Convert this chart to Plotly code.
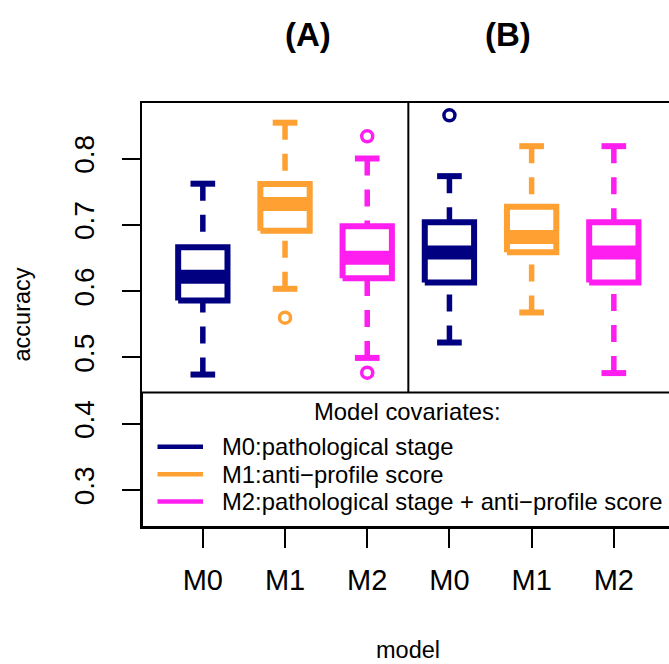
import plotly.graph_objects as go

# Boxplot summaries: accuracy of three covariate models in two settings (A, B)
models = ["M0", "M1", "M2", "M0", "M1", "M2"]
positions = [1, 2, 3, 4, 5, 6]
model_colors = ["#000080", "#FFA032", "#FF1EF0"]

whisker_low = [0.4742, 0.6035, 0.4993, 0.5225, 0.5678, 0.4764]
q1 = [0.5860, 0.6911, 0.6194, 0.6131, 0.6588, 0.6131]
median = [0.6215, 0.7313, 0.6502, 0.6583, 0.6816, 0.6583]
q3 = [0.6661, 0.7614, 0.6977, 0.7039, 0.7272, 0.7039]
whisker_high = [0.7620, 0.8540, 0.8000, 0.7734, 0.8186, 0.8186]
outliers = [[], [0.5600], [0.8335, 0.4771], [0.8652], [], []]

y_ticks = [0.3, 0.4, 0.5, 0.6, 0.7, 0.8]
panel_titles = ["(A)", "(B)"]
legend_title = "Model covariates:"
legend_labels = [
    "M0:pathological stage",
    "M1:anti\u2212profile score",
    "M2:pathological stage + anti\u2212profile score",
]

FONT = "Liberation Sans, Arial, Helvetica, sans-serif"
BOX_HALF = 0.3
STAPLE_HALF = 0.15
LW = 6

fig = go.Figure()

for i, p in enumerate(positions):
    col = model_colors[i % 3]
    # dashed whiskers, drawn from the whisker end towards the hinge
    fig.add_trace(go.Scatter(
        x=[p, p, None, p, p],
        y=[whisker_high[i], q3[i], None, whisker_low[i], q1[i]],
        mode="lines", line=dict(color=col, width=5.5, dash="17px,14px"),
        hoverinfo="skip", showlegend=False))
    # staples
    fig.add_trace(go.Scatter(
        x=[p - STAPLE_HALF, p + STAPLE_HALF, None, p - STAPLE_HALF, p + STAPLE_HALF],
        y=[whisker_high[i], whisker_high[i], None, whisker_low[i], whisker_low[i]],
        mode="lines", line=dict(color=col, width=LW),
        hoverinfo="skip", showlegend=False))
    # box
    fig.add_trace(go.Scatter(
        x=[p - BOX_HALF, p + BOX_HALF, p + BOX_HALF, p - BOX_HALF, p - BOX_HALF],
        y=[q1[i], q1[i], q3[i], q3[i], q1[i]],
        mode="lines", line=dict(color=col, width=LW),
        hoverinfo="skip", showlegend=False))
    # median
    fig.add_trace(go.Scatter(
        x=[p - BOX_HALF, p + BOX_HALF], y=[median[i], median[i]],
        mode="lines", line=dict(color=col, width=14),
        hoverinfo="skip", showlegend=False))
    # outliers
    if outliers[i]:
        fig.add_trace(go.Scatter(
            x=[p] * len(outliers[i]), y=outliers[i], mode="markers",
            marker=dict(symbol="circle-open", size=11, color=col,
                        line=dict(width=3.5, color=col)),
            hoverinfo="skip", showlegend=False))

# plot area: 142..669 px wide, 103..527 px tall
L, T, B = 142, 103, 137
W, H = 669, 664
pw, ph = W - L, H - T - B

def px_x(x):
    return (x - L) / pw

def px_y(y):
    return (H - B - y) / ph

shapes = []
legend_top = px_y(392.5)

# divider between the two panels
shapes.append(dict(type="line", xref="x", yref="paper", x0=3.5, x1=3.5,
                   y0=legend_top, y1=1, line=dict(color="black", width=2)))
# legend frame
shapes.append(dict(type="rect", xref="paper", yref="paper", x0=0, x1=1.05,
                   y0=0, y1=legend_top, line=dict(color="black", width=2),
                   fillcolor="white", layer="above"))

annotations = []
annotations.append(dict(text=legend_title, xref="paper", yref="paper",
                        x=px_x(407.5), y=px_y(411), showarrow=False,
                        xanchor="center", yanchor="middle",
                        font=dict(family=FONT, size=23.8, color="black")))
legend_y = [446.8, 474.3, 501.5]
for k, lab in enumerate(legend_labels):
    shapes.append(dict(type="line", xref="paper", yref="paper",
                       x0=px_x(157.5), x1=px_x(203), y0=px_y(legend_y[k]),
                       y1=px_y(legend_y[k]), layer="above",
                       line=dict(color=model_colors[k], width=4.5)))
    annotations.append(dict(text=lab, xref="paper", yref="paper",
                            x=px_x(220), y=px_y(legend_y[k]), showarrow=False,
                            xanchor="left", yanchor="middle",
                            font=dict(family=FONT, size=23.8, color="black")))

# panel titles
for t, xc in zip(panel_titles, [308.3, 508.3]):
    annotations.append(dict(text="<b>" + t + "</b>", xref="paper", yref="paper",
                            x=px_x(xc), y=px_y(35), showarrow=False,
                            xanchor="center", yanchor="middle",
                            font=dict(family=FONT, size=33, color="black")))

# axis titles
annotations.append(dict(text="accuracy", xref="paper", yref="paper",
                        x=px_x(21.5), y=0.5, textangle=-90, showarrow=False,
                        xanchor="center", yanchor="middle",
                        font=dict(family=FONT, size=23.5, color="black")))
annotations.append(dict(text="model", xref="paper", yref="paper",
                        x=px_x(408.3), y=px_y(650), showarrow=False,
                        xanchor="center", yanchor="middle",
                        font=dict(family=FONT, size=23.5, color="black")))

fig.update_layout(
    width=W, height=H,
    margin=dict(l=L, r=0, t=T, b=B, pad=0),
    paper_bgcolor="white", plot_bgcolor="white",
    shapes=shapes, annotations=annotations,
    showlegend=False,
    xaxis=dict(range=[0.26, 0.26 + pw / 82.2], tickvals=positions, ticktext=models,
               ticks="outside", ticklen=19, tickwidth=2, tickcolor="black",
               showline=True, mirror=True, linewidth=2, linecolor="black",
               showgrid=False, zeroline=False, ticklabelstandoff=7,
               tickfont=dict(family=FONT, size=29, color="black")),
    yaxis=dict(range=[0.2443, 0.8837], tickvals=y_ticks,
               ticktext=[f"{v:.1f}" for v in y_ticks], tickangle=-90,
               ticks="outside", ticklen=18, tickwidth=2, tickcolor="black",
               showline=True, mirror=False, linewidth=2, linecolor="black",
               showgrid=False, zeroline=False, ticklabelstandoff=17,
               tickfont=dict(family=FONT, size=28, color="black")),
)

fig.write_html("out.html")
